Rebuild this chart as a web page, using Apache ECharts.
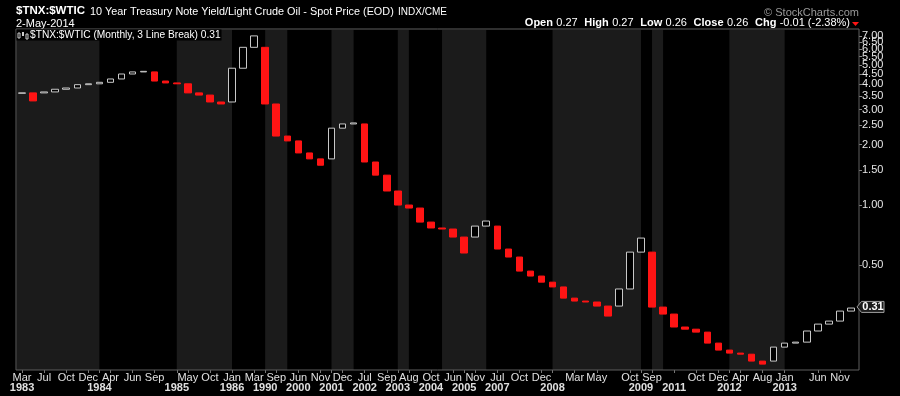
<!DOCTYPE html>
<html><head><meta charset="utf-8">
<script src="https://cdn.jsdelivr.net/npm/echarts@6/dist/echarts.min.js"></script>
<style>html,body{margin:0;padding:0;background:#000;}#c{width:900px;height:396px;}</style>
</head><body><div id="c"></div>
<script>
// 3-line-break bars: open and close of each line (monthly)
const opens  = [3.615,3.63,3.63,3.67,3.785,3.84,3.99,4.03,4.10,4.26,4.51,4.62,4.62,4.16,4.07,4.03,3.63,3.54,3.27,3.27,
  4.82,6.13,6.13,3.195,2.21,2.09,1.82,1.70,1.70,2.42,2.54,2.54,1.64,1.41,1.175,1.00,0.966,0.822,0.768,0.759,
  0.692,0.692,0.785,0.785,0.603,0.550,0.468,0.442,0.412,0.390,0.343,0.3316,0.328,0.313,0.313,0.381,0.582,0.582,0.3094,0.2855,
  0.246,0.240,0.232,0.2045,0.1887,0.1823,0.180,0.1663,0.1663,0.1953,0.2045,0.2068,0.235,0.2544,0.2634,0.2955];
const closes = [3.63,3.31,3.67,3.785,3.84,3.99,4.03,4.10,4.26,4.51,4.62,4.65,4.16,4.07,4.03,3.63,3.54,3.27,3.195,4.82,
  6.13,6.99,3.195,2.21,2.09,1.82,1.70,1.58,2.42,2.54,2.57,1.64,1.41,1.175,1.00,0.966,0.822,0.768,0.759,0.692,
  0.576,0.785,0.832,0.603,0.550,0.468,0.442,0.412,0.390,0.343,0.3316,0.328,0.313,0.279,0.381,0.582,0.684,0.3094,0.2855,0.246,
  0.240,0.232,0.2045,0.1887,0.1823,0.180,0.1663,0.1606,0.1953,0.2045,0.2068,0.235,0.2544,0.2634,0.2955,0.306];
// x labels: [bar index, text]
const monthTicks = [[0,'Mar'],[2,'Jul'],[4,'Oct'],[6,'Dec'],[8,'Apr'],[10,'Jun'],[12,'Sep'],[15,'May'],[17,'Oct'],[19,'Jan'],
  [21,'Mar'],[23,'Sep'],[25,'Jun'],[27,'Nov'],[29,'Dec'],[31,'Jul'],[33,'Sep'],[35,'Aug'],[37,'Oct'],[39,'Jun'],[41,'Nov'],
  [43,'Jul'],[45,'Oct'],[47,'Dec'],[50,'Mar'],[52,'May'],[55,'Oct'],[57,'Sep'],[61,'Oct'],[63,'Dec'],[65,'Apr'],[67,'Aug'],
  [69,'Jan'],[72,'Jun'],[74,'Nov']];
const yearTicks = [[0,'1983'],[7,'1984'],[14,'1985'],[19,'1986'],[22,'1990'],[25,'2000'],[28,'2001'],[31,'2002'],[34,'2003'],
  [37,'2004'],[40,'2005'],[43,'2007'],[48,'2008'],[56,'2009'],[59,'2011'],[64,'2012'],[69,'2013']];
// alternating year shading: [from bar, to bar] (null = chart edge)
const yearBands = [[null,7],[14,19],[22,24],[28,30],[34,35],[38,42],[48,56],[57,58],[64,69]];
// y tick labels
const yTicks = [7,6.5,6,5.5,5,4.5,4,3.5,3,2.5,2,1.5,1,0.5];
const yMin = 0.1501, yMax = 7.48;

const monthMap = {}; monthTicks.forEach(t => monthMap[t[0]] = t[1]);
const yearMap = {}; yearTicks.forEach(t => yearMap[t[0]] = t[1]);
const categories = opens.map((_, i) => String(i));
const L = Math.log10;
const candleData = opens.map((o, i) => {
  const c = closes[i];
  return [L(o), L(c), L(Math.min(o, c)), L(Math.max(o, c))];
});
const FONT = '"Liberation Sans", Arial, sans-serif';
const lastVal = closes[closes.length - 1].toFixed(2);
const showTick = (idx) => monthMap[idx] !== undefined || yearMap[idx] !== undefined;

const chart = echarts.init(document.getElementById('c'), null, {renderer: 'canvas'});
const option = {
  backgroundColor: '#000',
  animation: false,
  textStyle: {fontFamily: FONT},
  grid: [
    {left: 16.5, right: 43.5, top: 30, bottom: 26},
    {left: 16, right: 41, top: 29, bottom: 26, show: true, borderColor: '#5e5e5e', borderWidth: 1, backgroundColor: 'transparent', z: 5}
  ],
  xAxis: [
    {type: 'category', gridIndex: 0, data: categories, boundaryGap: true, position: 'bottom',
     axisLine: {show: false, onZero: false},
     axisTick: {show: true, length: 3, alignWithLabel: true, interval: (i) => showTick(i), lineStyle: {color: '#777'}},
     axisLabel: {interval: (i) => showTick(i), hideOverlap: false, margin: 3,
       formatter: (v, i) => {
         const idx = Number(v);
         const m = monthMap[idx] || ' ';
         const y = yearMap[idx];
         return '{m|' + m + '}' + (y ? '\n{y|' + y + '}' : '\n{m| }');
       },
       rich: {m: {color: '#e0e0e0', fontSize: 11, lineHeight: 10, fontFamily: FONT},
              y: {color: '#e0e0e0', fontSize: 11, fontWeight: 'bold', lineHeight: 10, fontFamily: FONT}}},
     splitLine: {show: false}},
    {type: 'value', gridIndex: 1, show: false}
  ],
  yAxis: [
    {type: 'value', gridIndex: 0, position: 'right', offset: 2.5, min: L(yMin), max: L(yMax), scale: true,
     axisLine: {show: false, onZero: false},
     axisTick: {show: true, length: 3, customValues: yTicks.map(L), lineStyle: {color: '#888'}},
     axisLabel: {show: false},
     splitLine: {show: false}},
    {type: 'value', gridIndex: 1, show: false}
  ],
  series: [{
    type: 'candlestick', xAxisIndex: 0, yAxisIndex: 0, data: candleData, barWidth: 7, silent: true,
    itemStyle: {color: '#000', color0: '#ff1414', borderColor: '#c8c8c8', borderColor0: '#ff1414', borderWidth: 1},
    markArea: {silent: true, label: {show: false}, itemStyle: {color: '#1b1b1b'},
      data: yearBands.map(b => [b[0] === null ? {name: ''} : {xAxis: b[0]}, {xAxis: b[1]}])}
  }]
};
chart.setOption(option);

// y-axis labels placed through the axis scale (all drawn, overlapping as in the source)
const yLabelEls = yTicks.map(t => ({
  type: 'text', z: 50, x: 862, y: chart.convertToPixel({yAxisIndex: 0}, L(t)),
  style: {text: t.toFixed(2), fill: '#e6e6e6', font: '11px ' + FONT, align: 'left', verticalAlign: 'middle'}
}));
const yLast = chart.convertToPixel({yAxisIndex: 0}, L(Number(lastVal)));
chart.setOption({graphic: yLabelEls.concat([
  {type: 'text', left: 16, top: 5, style: {text: '$TNX:$WTIC', fill: '#fff', font: 'bold 11.5px ' + FONT}},
  {type: 'text', left: 90, top: 6, style: {text: '10 Year Treasury Note Yield/Light Crude Oil - Spot Price (EOD)', fill: '#fff', font: '10.85px ' + FONT}},
  {type: 'text', left: 398, top: 7, style: {text: 'INDX/CME', fill: '#fff', font: '10px ' + FONT}},
  {type: 'text', left: 16, top: 18, style: {text: '2-May-2014', fill: '#fff', font: '11px ' + FONT}},
  {type: 'text', right: 41, top: 7, style: {text: '\u00A9 StockCharts.com', fill: '#9a9a9a', font: '11px ' + FONT}},
  {type: 'text', right: 50, top: 17, style: {
    text: '{b|Open} {v|0.27}  {b|High} {v|0.27}  {b|Low} {v|0.26}  {b|Close} {v|0.26}  {b|Chg} {v|-0.01 (-2.38%)}',
    rich: {b: {fill: '#fff', font: 'bold 11px ' + FONT}, v: {fill: '#fff', font: '11px ' + FONT}}}},
  {type: 'polygon', shape: {points: [[852, 22], [859, 22], [855.5, 26]]}, style: {fill: '#ff1414'}},
  {type: 'rect', z: 100, shape: {x: 16.5, y: 29.5, width: 205, height: 11}, style: {fill: '#000'}},
  {type: 'rect', z: 101, shape: {x: 18, y: 33, width: 2, height: 5}, style: {fill: 'none', stroke: '#ccc', lineWidth: 1}},
  {type: 'rect', z: 101, shape: {x: 22, y: 32, width: 2, height: 4}, style: {fill: '#ccc'}},
  {type: 'rect', z: 101, shape: {x: 26, y: 34, width: 2, height: 5}, style: {fill: 'none', stroke: '#ccc', lineWidth: 1}},
  {type: 'text', z: 101, left: 30, top: 30.5, style: {text: '$TNX:$WTIC (Monthly, 3 Line Break) ' + lastVal, fill: '#fff', font: '10.2px ' + FONT}},
  {type: 'polygon', z: 100, shape: {points: [[857, yLast], [861.5, yLast - 5.5], [884, yLast - 5.5], [884, yLast + 5.5], [861.5, yLast + 5.5]]},
   style: {fill: '#1c1c1c', stroke: '#a0a0a0', lineWidth: 1}},
  {type: 'text', z: 101, x: 873, y: yLast, style: {text: lastVal, fill: '#fff', font: 'bold 11px ' + FONT, align: 'center', verticalAlign: 'middle'}}
])});
</script></body></html>
